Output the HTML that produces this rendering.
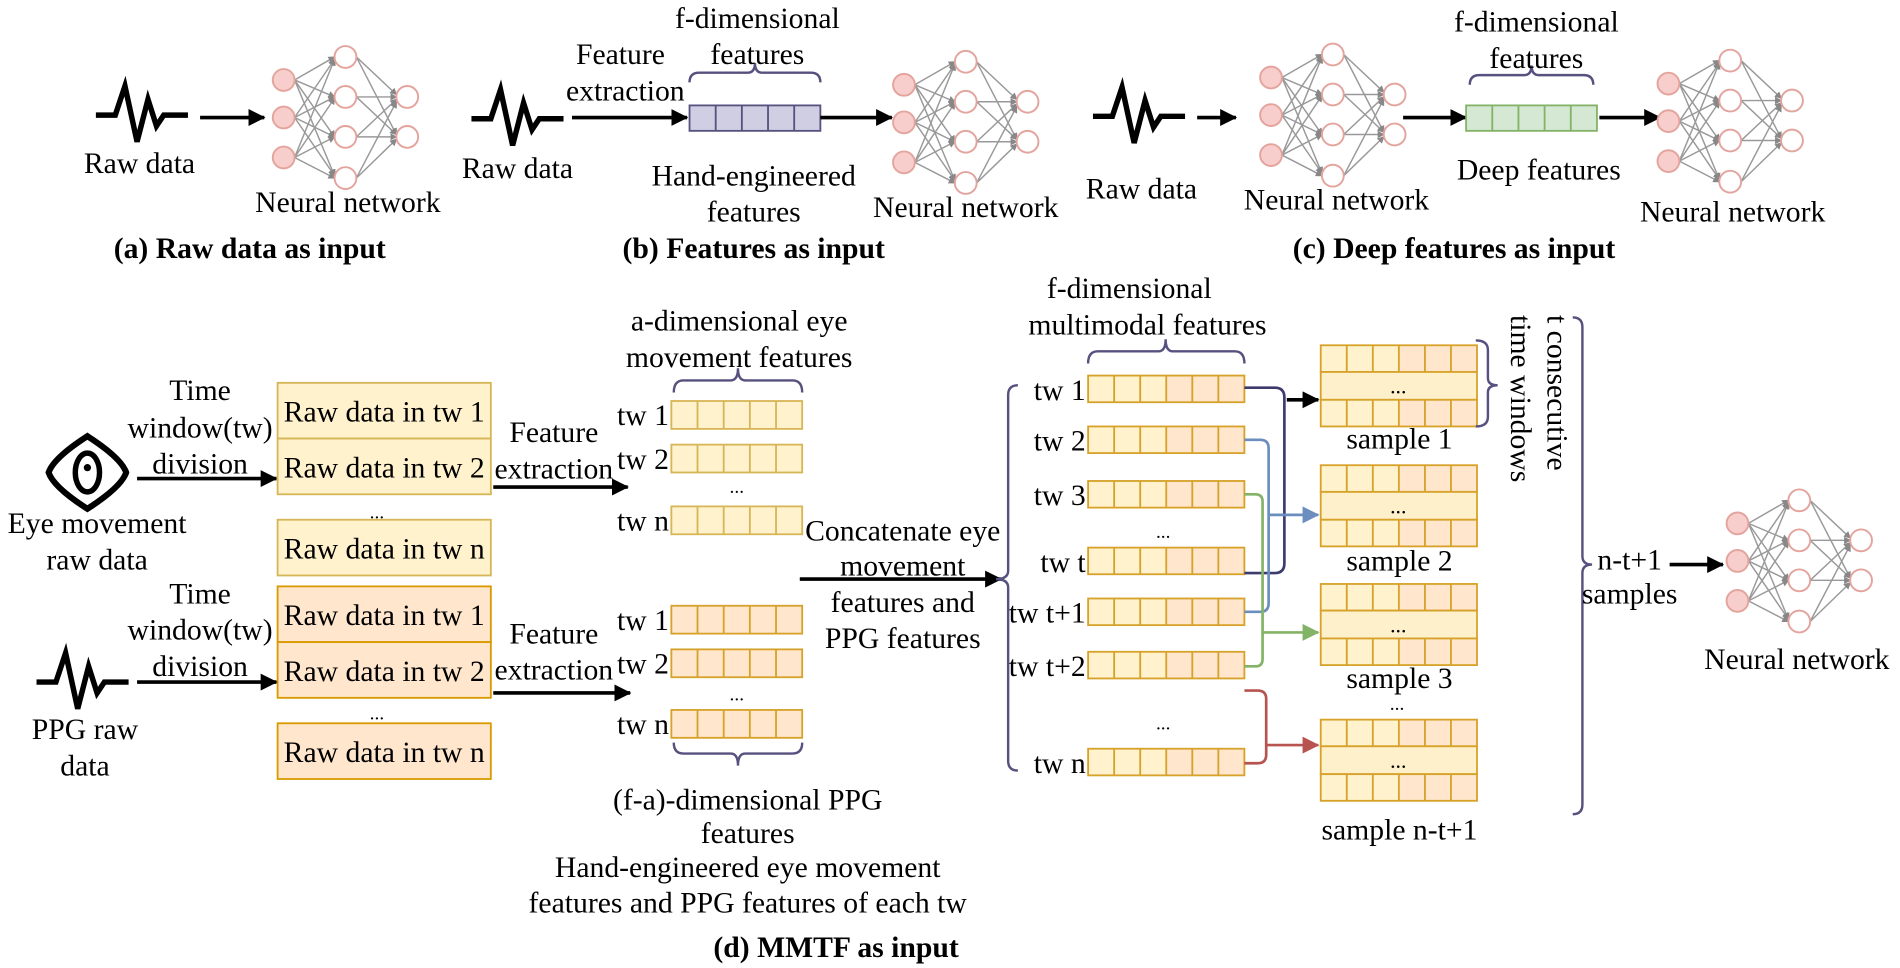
<!DOCTYPE html>
<html><head><meta charset="utf-8"><style>html,body{margin:0;padding:0;background:#fff}svg{display:block}</style></head>
<body>
<svg width="1900" height="968" viewBox="0 0 1568 799" xmlns="http://www.w3.org/2000/svg" font-family="Liberation Serif, serif" font-size="24.5" fill="#000">
<defs>
<marker id="ab" markerWidth="14" markerHeight="14" refX="13" refY="7" orient="auto" markerUnits="userSpaceOnUse"><path d="M0,0 L14,7 L0,14 z" fill="#6c8ebf"/></marker>
<marker id="ag" markerWidth="14" markerHeight="14" refX="13" refY="7" orient="auto" markerUnits="userSpaceOnUse"><path d="M0,0 L14,7 L0,14 z" fill="#82b366"/></marker>
<marker id="ar" markerWidth="14" markerHeight="14" refX="13" refY="7" orient="auto" markerUnits="userSpaceOnUse"><path d="M0,0 L14,7 L0,14 z" fill="#b85450"/></marker>
<marker id="aK" markerWidth="14" markerHeight="14" refX="13" refY="7" orient="auto" markerUnits="userSpaceOnUse"><path d="M0,0 L14,7 L0,14 z" fill="#000"/></marker>
<marker id="an" markerWidth="6" markerHeight="6" refX="5" refY="3" orient="auto" markerUnits="userSpaceOnUse"><path d="M0,0 L6,3 L0,6 z" fill="#888"/></marker>
<g id="nn">
<g stroke="#999" stroke-width="1.2" marker-end="url(#an)">
<line x1="-42" y1="-31" x2="-9" y2="-50"/><line x1="-42" y1="-31" x2="-9" y2="-17"/><line x1="-42" y1="-31" x2="-9" y2="16"/><line x1="-42" y1="-31" x2="-9" y2="48"/>
<line x1="-42" y1="0" x2="-9" y2="-48"/><line x1="-42" y1="0" x2="-9" y2="-17"/><line x1="-42" y1="0" x2="-9" y2="16"/><line x1="-42" y1="0" x2="-9" y2="48"/>
<line x1="-42" y1="33" x2="-9" y2="-48"/><line x1="-42" y1="33" x2="-9" y2="-16"/><line x1="-42" y1="33" x2="-9" y2="16"/><line x1="-42" y1="33" x2="-9" y2="50"/>
<line x1="9" y1="-50" x2="42" y2="-19"/><line x1="9" y1="-50" x2="42" y2="14"/><line x1="9" y1="-17" x2="42" y2="-17"/><line x1="9" y1="-17" x2="42" y2="14"/>
<line x1="9" y1="16" x2="42" y2="-15"/><line x1="9" y1="16" x2="42" y2="16"/><line x1="9" y1="50" x2="42" y2="-13"/><line x1="9" y1="50" x2="42" y2="18"/>
</g>
<g stroke="#e3a49d" stroke-width="1.6">
<circle cx="-51" cy="-31" r="9" fill="#f8cecc"/><circle cx="-51" cy="0" r="9" fill="#f8cecc"/><circle cx="-51" cy="33" r="9" fill="#f8cecc"/>
<circle cx="0" cy="-50" r="9" fill="#fff"/><circle cx="0" cy="-17" r="9" fill="#fff"/><circle cx="0" cy="16" r="9" fill="#fff"/><circle cx="0" cy="50" r="9" fill="#fff"/>
<circle cx="51" cy="-17" r="9" fill="#fff"/><circle cx="51" cy="16" r="9" fill="#fff"/>
</g></g>
<polyline id="wave" points="-38,0 -22,0 -14,-24 -4,22 5,-13 12,9 18,0 38,0" fill="none" stroke="#000" stroke-width="4.5" stroke-linejoin="miter"/>
<g id="ry"><rect x="0" y="0" width="108" height="23" fill="#fff2cc" stroke="#d6b656" stroke-width="1.5"/><path d="M21.6,0v23M43.2,0v23M64.8,0v23M86.4,0v23" stroke="#d6b656" stroke-width="1.5"/></g>
<g id="ro"><rect x="0" y="0" width="108" height="23" fill="#ffe6cc" stroke="#d6a22a" stroke-width="1.5"/><path d="M21.6,0v23M43.2,0v23M64.8,0v23M86.4,0v23" stroke="#d6a22a" stroke-width="1.5"/></g>
<g id="r6"><rect x="0" y="0" width="64.5" height="22" fill="#fff2cc"/><rect x="64.5" y="0" width="64.5" height="22" fill="#ffe6cc"/><rect x="0" y="0" width="129" height="22" fill="none" stroke="#d6a22a" stroke-width="1.5"/><path d="M21.5,0v22M43,0v22M64.5,0v22M86,0v22M107.5,0v22" stroke="#d6a22a" stroke-width="1.5"/></g>
<g id="smp"><use href="#r6" y="0"/><rect x="0" y="22" width="129" height="23" fill="#fff0cc" stroke="#d6a22a" stroke-width="1.5"/><text x="64" y="40" text-anchor="middle" font-size="18">...</text><use href="#r6" y="45"/></g>
</defs>

<!-- (a) -->
<use href="#wave" x="117" y="95"/>
<line x1="165" y1="97" x2="218" y2="97" stroke="#000" stroke-width="3" marker-end="url(#aK)"/>
<use href="#nn" x="285" y="97"/>
<text x="115" y="143" text-anchor="middle">Raw data</text>
<text x="287" y="175" text-anchor="middle">Neural network</text>
<text x="206" y="213" text-anchor="middle" font-weight="bold">(a) Raw data as input</text>

<!-- (b) -->
<use href="#wave" x="427" y="98"/>
<text x="427" y="147" text-anchor="middle">Raw data</text>
<text x="512" y="53" text-anchor="middle">Feature</text>
<text x="516" y="83" text-anchor="middle">extraction</text>
<line x1="472" y1="97" x2="567" y2="97" stroke="#000" stroke-width="3" marker-end="url(#aK)"/>
<rect x="569" y="87" width="108" height="21" fill="#d0cee2" stroke="#56517e" stroke-width="1.5"/>
<path d="M590.6,87v21M612.2,87v21M633.8,87v21M655.4,87v21" stroke="#56517e" stroke-width="1.5"/>
<path d="M569,68 Q569,60 577,60 L617,60 Q623,60 623,52 Q623,60 629,60 L669,60 Q677,60 677,68" fill="none" stroke="#56517e" stroke-width="2"/>
<text x="625" y="23" text-anchor="middle">f-dimensional</text>
<text x="625" y="53" text-anchor="middle">features</text>
<text x="622" y="153" text-anchor="middle">Hand-engineered</text>
<text x="622" y="183" text-anchor="middle">features</text>
<line x1="677" y1="97" x2="736" y2="97" stroke="#000" stroke-width="3" marker-end="url(#aK)"/>
<use href="#nn" x="797" y="101"/>
<text x="797" y="179" text-anchor="middle">Neural network</text>
<text x="622" y="213" text-anchor="middle" font-weight="bold">(b) Features as input</text>

<!-- (c) -->
<use href="#wave" x="940" y="96"/>
<text x="942" y="164" text-anchor="middle">Raw data</text>
<line x1="988" y1="97" x2="1020" y2="97" stroke="#000" stroke-width="3" marker-end="url(#aK)"/>
<use href="#nn" x="1100" y="95"/>
<text x="1103" y="173" text-anchor="middle">Neural network</text>
<line x1="1158" y1="97" x2="1210" y2="97" stroke="#000" stroke-width="3" marker-end="url(#aK)"/>
<rect x="1210" y="87" width="108" height="21" fill="#d5e8d4" stroke="#82b366" stroke-width="1.5"/>
<path d="M1231.6,87v21M1253.2,87v21M1274.8,87v21M1296.4,87v21" stroke="#82b366" stroke-width="1.5"/>
<path d="M1213,70 Q1213,62 1221,62 L1258,62 Q1264,62 1264,54 Q1264,62 1270,62 L1307,62 Q1315,62 1315,70" fill="none" stroke="#56517e" stroke-width="2"/>
<text x="1268" y="26" text-anchor="middle">f-dimensional</text>
<text x="1268" y="56" text-anchor="middle">features</text>
<text x="1270" y="148" text-anchor="middle">Deep features</text>
<line x1="1320" y1="97" x2="1370" y2="97" stroke="#000" stroke-width="3" marker-end="url(#aK)"/>
<use href="#nn" x="1428" y="100"/>
<text x="1430" y="183" text-anchor="middle">Neural network</text>
<text x="1200" y="213" text-anchor="middle" font-weight="bold">(c) Deep features as input</text>

<!-- (d) eye -->
<path d="M72,360 Q100,378 104,390 Q100,402 72,420 Q44,402 40,390 Q44,378 72,360 Z" fill="none" stroke="#000" stroke-width="5"/>
<ellipse cx="72" cy="390" rx="10" ry="16" fill="none" stroke="#000" stroke-width="4.5"/>
<circle cx="72" cy="386" r="3" fill="#000"/>
<text x="80" y="440" text-anchor="middle">Eye movement</text>
<text x="80" y="470" text-anchor="middle">raw data</text>
<text x="165" y="330" text-anchor="middle">Time</text>
<text x="165" y="361" text-anchor="middle">window(tw)</text>
<text x="165" y="391" text-anchor="middle">division</text>
<line x1="113" y1="395" x2="228" y2="395" stroke="#000" stroke-width="3" marker-end="url(#aK)"/>
<g>
<rect x="229" y="316" width="176" height="46" fill="#fff2cc" stroke="#d6b656" stroke-width="1.5"/>
<text x="317" y="348" text-anchor="middle">Raw data in tw 1</text>
<rect x="229" y="362" width="176" height="46" fill="#fff2cc" stroke="#d6b656" stroke-width="1.5"/>
<text x="317" y="394" text-anchor="middle">Raw data in tw 2</text>
<text x="311" y="428" text-anchor="middle" font-size="16">...</text>
<rect x="229" y="429" width="176" height="46" fill="#fff2cc" stroke="#d6b656" stroke-width="1.5"/>
<text x="317" y="461" text-anchor="middle">Raw data in tw n</text>
<rect x="229" y="484" width="176" height="46" fill="#ffe6cc" stroke="#d79b00" stroke-width="1.5"/>
<text x="317" y="516" text-anchor="middle">Raw data in tw 1</text>
<rect x="229" y="530" width="176" height="46" fill="#ffe6cc" stroke="#d79b00" stroke-width="1.5"/>
<text x="317" y="562" text-anchor="middle">Raw data in tw 2</text>
<text x="311" y="594" text-anchor="middle" font-size="16">...</text>
<rect x="229" y="597" width="176" height="46" fill="#ffe6cc" stroke="#d79b00" stroke-width="1.5"/>
<text x="317" y="629" text-anchor="middle">Raw data in tw n</text>
</g>
<use href="#wave" x="68" y="563"/>
<text x="70" y="610" text-anchor="middle">PPG raw</text>
<text x="70" y="640" text-anchor="middle">data</text>
<text x="165" y="498" text-anchor="middle">Time</text>
<text x="165" y="528" text-anchor="middle">window(tw)</text>
<text x="165" y="558" text-anchor="middle">division</text>
<line x1="113" y1="563" x2="228" y2="563" stroke="#000" stroke-width="3" marker-end="url(#aK)"/>
<text x="457" y="365" text-anchor="middle">Feature</text>
<text x="457" y="395" text-anchor="middle">extraction</text>
<line x1="407" y1="402" x2="518" y2="402" stroke="#000" stroke-width="3" marker-end="url(#aK)"/>
<text x="457" y="531" text-anchor="middle">Feature</text>
<text x="457" y="561" text-anchor="middle">extraction</text>
<line x1="407" y1="572" x2="520" y2="572" stroke="#000" stroke-width="3" marker-end="url(#aK)"/>

<!-- small feature rows -->
<use href="#ry" x="554" y="331"/><text x="552" y="351" text-anchor="end">tw 1</text>
<use href="#ry" x="554" y="367"/><text x="552" y="387" text-anchor="end">tw 2</text>
<text x="608" y="407" text-anchor="middle" font-size="16">...</text>
<use href="#ry" x="554" y="418"/><text x="552" y="438" text-anchor="end">tw n</text>
<use href="#ro" x="554" y="500"/><text x="552" y="520" text-anchor="end">tw 1</text>
<use href="#ro" x="554" y="536"/><text x="552" y="556" text-anchor="end">tw 2</text>
<text x="608" y="578" text-anchor="middle" font-size="16">...</text>
<use href="#ro" x="554" y="586"/><text x="552" y="606" text-anchor="end">tw n</text>
<path d="M556,324 Q556,314 564,314 L603,314 Q609,314 609,304 Q609,314 615,314 L654,314 Q662,314 662,324" fill="none" stroke="#56517e" stroke-width="2"/>
<text x="610" y="273" text-anchor="middle">a-dimensional eye</text>
<text x="610" y="303" text-anchor="middle">movement features</text>
<path d="M556,613 Q556,622 564,622 L603,622 Q609,622 609,632 Q609,622 615,622 L654,622 Q662,622 662,613" fill="none" stroke="#56517e" stroke-width="2"/>
<text x="617" y="668" text-anchor="middle">(f-a)-dimensional PPG</text>
<text x="617" y="696" text-anchor="middle">features</text>
<text x="617" y="724" text-anchor="middle">Hand-engineered eye movement</text>
<text x="617" y="753" text-anchor="middle">features and PPG features of each tw</text>
<text x="690" y="790" text-anchor="middle" font-weight="bold">(d) MMTF as input</text>

<text x="745" y="446" text-anchor="middle">Concatenate eye</text>
<text x="745" y="475" text-anchor="middle">movement</text>
<text x="745" y="505" text-anchor="middle">features and</text>
<text x="745" y="535" text-anchor="middle">PPG features</text>
<line x1="660" y1="478" x2="826" y2="478" stroke="#000" stroke-width="3" marker-end="url(#aK)"/>
<path d="M840,318 Q832,318 832,326 L832,471 Q832,478 822,478 Q832,478 832,485 L832,628 Q832,636 840,636" fill="none" stroke="#56517e" stroke-width="2"/>

<!-- multimodal rows -->
<path d="M898,300 Q898,290 906,290 L956,290 Q962,290 962,280 Q962,290 968,290 L1019,290 Q1027,290 1027,300" fill="none" stroke="#56517e" stroke-width="2"/>
<text x="932" y="246" text-anchor="middle">f-dimensional</text>
<text x="947" y="276" text-anchor="middle">multimodal features</text>
<use href="#r6" x="898" y="310"/><text x="896" y="330" text-anchor="end">tw 1</text>
<use href="#r6" x="898" y="352"/><text x="896" y="372" text-anchor="end">tw 2</text>
<use href="#r6" x="898" y="397"/><text x="896" y="417" text-anchor="end">tw 3</text>
<text x="960" y="444" text-anchor="middle" font-size="16">...</text>
<use href="#r6" x="898" y="452"/><text x="896" y="472" text-anchor="end">tw t</text>
<use href="#r6" x="898" y="494"/><text x="896" y="514" text-anchor="end">tw t+1</text>
<use href="#r6" x="898" y="538"/><text x="896" y="558" text-anchor="end">tw t+2</text>
<text x="960" y="602" text-anchor="middle" font-size="16">...</text>
<use href="#r6" x="898" y="618"/><text x="896" y="638" text-anchor="end">tw n</text>

<!-- connectors -->
<path d="M1027,320 L1052,320 Q1060,320 1060,328 L1060,465 Q1060,473 1052,473 L1027,473" fill="none" stroke="#3d3a6e" stroke-width="2.2"/>
<line x1="1062" y1="330" x2="1088" y2="330" stroke="#000" stroke-width="3" marker-end="url(#aK)"/>
<path d="M1027,363 L1040,363 Q1047,363 1047,370 L1047,498 Q1047,505 1040,505 L1027,505" fill="none" stroke="#6c8ebf" stroke-width="2.2"/>
<line x1="1047" y1="425" x2="1088" y2="425" stroke="#6c8ebf" stroke-width="2.2" marker-end="url(#ab)"/>
<path d="M1027,408 L1036,408 Q1042,408 1042,414 L1042,544 Q1042,550 1036,550 L1027,550" fill="none" stroke="#82b366" stroke-width="2.2"/>
<line x1="1042" y1="522" x2="1088" y2="522" stroke="#82b366" stroke-width="2.2" marker-end="url(#ag)"/>
<path d="M1027,570 L1038,570 Q1045,570 1045,577 L1045,623 Q1045,630 1038,630 L1027,630" fill="none" stroke="#b85450" stroke-width="2.2"/>
<line x1="1045" y1="615" x2="1088" y2="615" stroke="#b85450" stroke-width="2.2" marker-end="url(#ar)"/>

<!-- samples -->
<use href="#smp" x="1090" y="285"/><text x="1155" y="370" text-anchor="middle">sample 1</text>
<use href="#smp" x="1090" y="384"/><text x="1155" y="471" text-anchor="middle">sample 2</text>
<use href="#smp" x="1090" y="482"/><text x="1155" y="568" text-anchor="middle">sample 3</text>
<text x="1153" y="586" text-anchor="middle" font-size="16">...</text>
<use href="#smp" x="1090" y="594"/><text x="1155" y="693" text-anchor="middle">sample n-t+1</text>
<path d="M1218,281 Q1228,281 1228,289 L1228,312 Q1228,318 1236,318 Q1228,318 1228,324 L1228,344 Q1228,352 1218,352" fill="none" stroke="#56517e" stroke-width="2"/>
<text transform="translate(1277,260) rotate(90)" text-anchor="start">t consecutive</text>
<text transform="translate(1247,260) rotate(90)" text-anchor="start">time windows</text>
<path d="M1298,262 Q1306,262 1306,270 L1306,459 Q1306,466 1314,466 Q1306,466 1306,473 L1306,664 Q1306,672 1298,672" fill="none" stroke="#56517e" stroke-width="2"/>
<text x="1345" y="470" text-anchor="middle">n-t+1</text>
<text x="1345" y="498" text-anchor="middle">samples</text>
<line x1="1378" y1="466" x2="1422" y2="466" stroke="#000" stroke-width="3" marker-end="url(#aK)"/>
<use href="#nn" x="1485" y="463"/>
<text x="1483" y="552" text-anchor="middle">Neural network</text>
</svg>
</body></html>
